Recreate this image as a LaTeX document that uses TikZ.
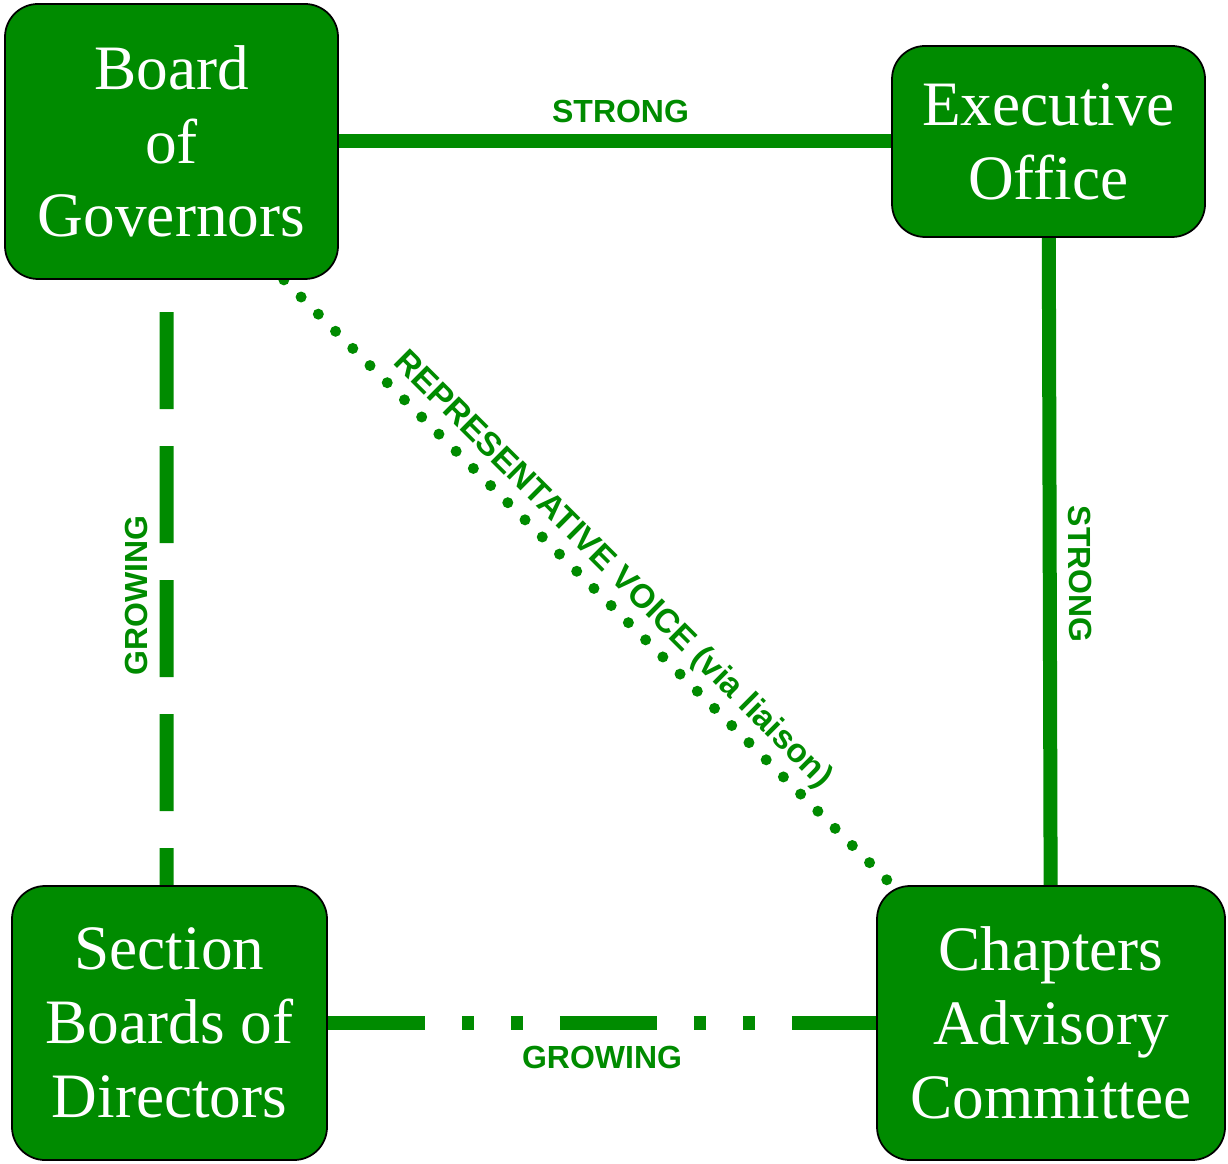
\documentclass[tikz,border=0pt]{standalone}
\usepackage{fontspec}
\setmainfont{Liberation Serif}
\setsansfont{Liberation Sans}
\usepackage{tikz}
\usetikzlibrary{backgrounds}
\definecolor{boardgreen}{RGB}{0,139,0}

\begin{document}
\begin{tikzpicture}[
  office/.style={draw=black, line width=0.5pt, fill=boardgreen, rounded corners=0.33cm,
    text=white, align=center, font=\fontsize{18}{21}\selectfont, inner sep=0pt},
  linklabel/.style={text=boardgreen, font=\fontsize{9.1}{10}\sffamily\bfseries, inner sep=0.12cm},
  strong/.style={draw=boardgreen, line width=0.14cm},
  growing/.style={draw=boardgreen, line width=0.14cm, dash pattern=on 0.97cm off 0.37cm},
  liaison/.style={draw=boardgreen, line width=0.11cm, line cap=round, dash pattern=on 0pt off 0.243cm}
]
\useasboundingbox (0,0) rectangle (12.28,11.63);

\node[office, minimum width=3.33cm, minimum height=2.75cm] (bog) at (1.715,10.215) {Board\\of\\Governors};
\node[office, minimum width=3.13cm, minimum height=1.91cm] (eo) at (10.485,10.215) {Executive\\Office};
\node[office, minimum width=3.15cm, minimum height=2.74cm] (sbd) at (1.695,1.40) {Section\\Boards of\\Directors};
\node[office, minimum width=3.48cm, minimum height=2.74cm] (cac) at (10.51,1.40) {Chapters\\Advisory\\Committee};

\begin{scope}[on background layer]
\draw[strong] (bog) -- node[linklabel, pos=0.51, above] {STRONG} (eo);
\draw[strong] (eo) -- node[linklabel, pos=0.52, sloped, above] {STRONG} (cac);
\draw[growing, dash phase=0.60cm] ([xshift=-0.03cm]sbd.north) -- node[linklabel, pos=0.478, rotate=90, anchor=south] {GROWING} ([xshift=-0.05cm]bog.south);
\draw[growing, dash pattern=on 0.97cm off 0.37cm on 0.12cm off 0.37cm on 0.12cm off 0.37cm]
  (sbd) -- node[linklabel, midway, below, inner sep=0.16cm] {GROWING} (cac);
\draw[liaison] ([xshift=-0.55cm]bog.south east) -- node[linklabel, pos=0.51, sloped, above, inner sep=0.05cm, font=\fontsize{9.5}{10}\sffamily\bfseries] {REPRESENTATIVE VOICE (via liaison)} ([xshift=0.16cm]cac.north west);
\end{scope}
\end{tikzpicture}
\end{document}
